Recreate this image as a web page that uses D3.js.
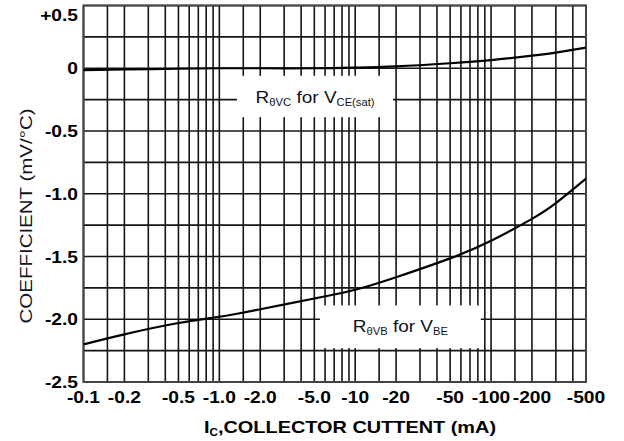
<!DOCTYPE html>
<html>
<head>
<meta charset="utf-8">
<script src="https://cdn.jsdelivr.net/npm/d3@7"></script>
<style>
  body { margin: 0; background: #fff; }
  svg { display: block; }
</style>
</head>
<body>
<script>
// collector current (mA, shown negative on the axis) and temperature coefficients
let current = [0.1, 0.2, 0.5, 1, 2, 5, 10, 20, 50, 100, 200, 300, 500];
let vceSat = [-0.015, -0.01, -0.004, 0, 0, 0, 0.005, 0.015, 0.04, 0.065, 0.1, 0.125, 0.165];
let vbe = [-2.20, -2.12, -2.03, -1.98, -1.92, -1.835, -1.765, -1.665, -1.515, -1.375, -1.20, -1.075, -0.88];

let xTicks = [0.1, 0.2, 0.5, 1, 2, 5, 10, 20, 50, 100, 200, 500];
let xTickLabels = ["-0.1", "-0.2", "-0.5", "-1.0", "-2.0", "-5.0", "-10", "-20", "-50", "-100", "-200", "-500"];
let yTicks = [0.5, 0, -0.5, -1, -1.5, -2, -2.5];
let yTickLabels = ["+0.5", "0", "-0.5", "-1.0", "-1.5", "-2.0", "-2.5"];

let width = 624, height = 441;
let x = d3.scaleLog().domain([0.1, 500]).range([83.5, 586]);
let y = d3.scaleLinear().domain([0.5, -2.5]).range([5.5, 382]);

let svg = d3.select("body").append("svg")
  .attr("width", width)
  .attr("height", height)
  .style("font-family", "'Liberation Sans', Arial, sans-serif");

// log grid: 1, 1.5, 2 ... 9 in each decade
let vLines = [];
[0.1, 1, 10, 100].forEach(function(dec) {
  [1, 1.5, 2, 3, 4, 5, 6, 7, 8, 9].forEach(function(m) {
    let v = +(m * dec).toPrecision(3);
    if (v <= 500) vLines.push(v);
  });
});
vLines.push(500);
let hLines = d3.range(-2.5, 0.5001, 0.25);

let grid = svg.append("g").attr("stroke", "#151515").attr("stroke-width", 1.6);
grid.selectAll(".v").data(vLines).enter().append("line")
  .attr("x1", d => x(d)).attr("x2", d => x(d))
  .attr("y1", y(0.5)).attr("y2", y(-2.5));
grid.selectAll(".h").data(hLines).enter().append("line")
  .attr("x1", x(0.1)).attr("x2", x(500))
  .attr("y1", d => y(d)).attr("y2", d => y(d));

svg.append("rect")
  .attr("x", x(0.1)).attr("y", y(0.5))
  .attr("width", x(500) - x(0.1)).attr("height", y(-2.5) - y(0.5))
  .attr("fill", "none").attr("stroke", "#444").attr("stroke-width", 2);

// annotation boxes blank out the grid behind the labels
let notes = [
  { i0: 1.35, i1: 19, c0: -0.06, c1: -0.39, base: -0.28, main: "R", sub: "θVC", mid: " for V", sub2: "CE(sat)" },
  { i0: 5.5, i1: 84, c0: -1.89, c1: -2.23, base: -2.105, main: "R", sub: "θVB", mid: " for V", sub2: "BE" }
];
notes.forEach(function(n) {
  svg.append("rect")
    .attr("x", x(n.i0)).attr("y", y(n.c0))
    .attr("width", x(n.i1) - x(n.i0)).attr("height", y(n.c1) - y(n.c0))
    .attr("fill", "#fff");
  let t = svg.append("text")
    .attr("transform", "translate(" + (x(n.i0) + x(n.i1)) / 2 + "," + y(n.base) + ") scale(1.12,1)")
    .attr("text-anchor", "middle")
    .attr("font-size", 17)
    .attr("fill", "#111122");
  t.append("tspan").text(n.main);
  t.append("tspan").attr("font-size", 10).attr("dy", 3).text(n.sub);
  t.append("tspan").attr("dy", -3).text(n.mid);
  t.append("tspan").attr("font-size", 10).attr("dy", 3).text(n.sub2);
});

// curves
let line = d3.line()
  .x(d => x(d[0]))
  .y(d => y(d[1]))
  .curve(d3.curveNatural);

[vceSat, vbe].forEach(function(series) {
  svg.append("path")
    .datum(d3.zip(current, series))
    .attr("d", line)
    .attr("fill", "none")
    .attr("stroke", "#000")
    .attr("stroke-width", 2.2);
});

// tick labels
svg.append("g").selectAll("text").data(xTicks).enter().append("text")
  .attr("transform", d => "translate(" + x(d) + ",403) scale(1.2,1)")
  .attr("text-anchor", "middle")
  .attr("font-size", 16)
  .attr("font-weight", "bold")
  .text((d, i) => xTickLabels[i]);

svg.append("g").selectAll("text").data(yTicks).enter().append("text")
  .attr("transform", d => "translate(78," + Math.max(y(d) + 6, 21) + ") scale(1.2,1)")
  .attr("text-anchor", "end")
  .attr("font-size", 16)
  .attr("font-weight", "bold")
  .text((d, i) => yTickLabels[i]);

// axis titles
let xt = svg.append("text")
  .attr("transform", "translate(350,433) scale(1.17,1)")
  .attr("text-anchor", "middle")
  .attr("font-size", 17)
  .attr("font-weight", "bold");
xt.append("tspan").text("I");
xt.append("tspan").attr("font-size", 10).attr("dy", 3).text("C");
xt.append("tspan").attr("dy", -3).text(",COLLECTOR CUTTENT (mA)");

svg.append("text")
  .attr("transform", "translate(32,216) rotate(-90)")
  .attr("text-anchor", "middle")
  .attr("font-size", 16)
  .attr("fill", "#111122")
  .attr("textLength", 215)
  .attr("lengthAdjust", "spacingAndGlyphs")
  .text("COEFFICIENT (mV/°C)");
</script>
</body>
</html>
